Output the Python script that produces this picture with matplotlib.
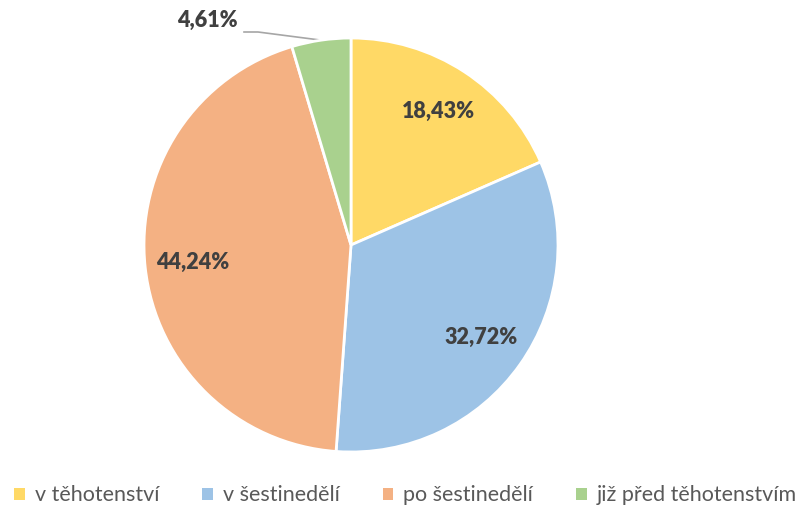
import matplotlib.pyplot as plt
from matplotlib.patches import Patch
import numpy as np

# data
labels = ['v těhotenství', 'v šestinedělí', 'po šestinedělí', 'již před těhotenstvím']
values = [18.43, 32.72, 44.24, 4.61]
colors = ['#FFD966', '#9DC3E6', '#F4B183', '#A9D18E']

plt.rcParams['font.family'] = ['Lato', 'DejaVu Sans']

fig = plt.figure(figsize=(8.03, 5.07), dpi=100)
ax = fig.add_axes([0, 0, 1, 1])

cx, cy, r = 351, 262, 207

def fmt(p):
    return '{:.2f}%'.format(p).replace('.', ',')

wedges, texts, autotexts = ax.pie(values, colors=colors, startangle=90, counterclock=False,
                                  center=(cx, cy), radius=r, autopct=fmt, pctdistance=0.77,
                                  wedgeprops=dict(edgecolor='white', linewidth=2),
                                  textprops=dict(fontsize=15.5, fontweight='heavy', color='#404040'))

# pixel-like data coords
ax.set_xlim(0, 803)
ax.set_ylim(0, 507)
ax.set_aspect('equal')
ax.axis('off')

# small slice: label outside with leader line
w = wedges[3]
mid = np.deg2rad((w.theta1 + w.theta2) / 2)
ex, ey = cx + r * np.cos(mid), cy + r * np.sin(mid)
t = autotexts[3]
t.set_position((207, 487))
ax.plot([244, 258, ex], [475, 475, ey], color='#A6A6A6', lw=1.2, zorder=0)

handles = [Patch(facecolor=c, edgecolor='none') for c in colors]
ax.legend(handles, labels, loc='lower center', bbox_to_anchor=(0.505, -0.035), ncol=4,
          frameon=False, fontsize=15.5, handlelength=0.5, handleheight=0.5,
          columnspacing=2.0, handletextpad=0.45, labelcolor='#595959')

plt.savefig('out.png')
